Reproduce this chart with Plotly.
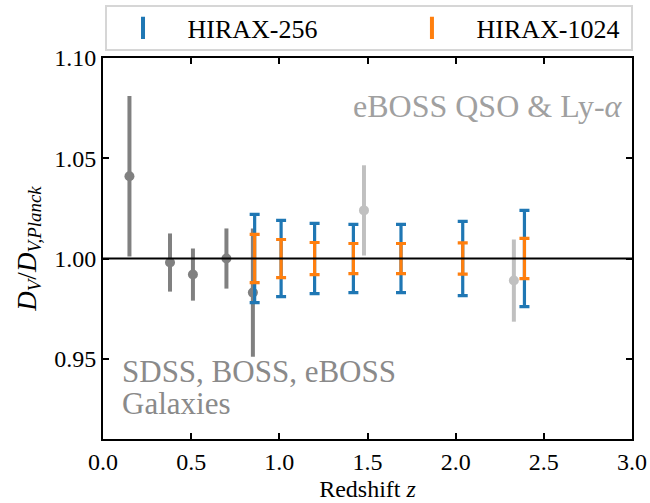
import plotly.graph_objects as go

# Galaxy BAO measurements (SDSS, BOSS, eBOSS)
gal_z = [0.15, 0.38, 0.51, 0.70, 0.85]
gal_y = [1.041, 0.998, 0.992, 1.000, 0.983]
gal_err = [0.040, 0.0145, 0.013, 0.015, 0.032]

# eBOSS QSO & Ly-alpha
qso_z = [1.48, 2.33]
qso_y = [1.024, 0.989]
qso_err = [0.0225, 0.0205]

# HIRAX forecasts
hirax_z = [0.86, 1.01, 1.20, 1.42, 1.69, 2.04, 2.39]
hirax_y = [1.0, 1.0, 1.0, 1.0, 1.0, 1.0, 1.0]
hirax256_err = [0.022, 0.019, 0.0175, 0.017, 0.017, 0.0185, 0.024]
hirax1024_err = [0.012, 0.0095, 0.008, 0.0075, 0.0075, 0.0078, 0.010]

FONT = "Liberation Serif"
BLUE = "#1f77b4"
ORANGE = "#ff7f0e"
DGRAY = "#808080"
LGRAY = "#c0c0c0"

fig = go.Figure()

fig.add_trace(go.Scatter(
    x=gal_z, y=gal_y, mode="markers",
    marker=dict(color=DGRAY, size=10),
    error_y=dict(type="data", array=gal_err, color=DGRAY, thickness=4, width=0),
    showlegend=False, name="SDSS, BOSS, eBOSS Galaxies"))

fig.add_trace(go.Scatter(
    x=qso_z, y=qso_y, mode="markers",
    marker=dict(color=LGRAY, size=10),
    error_y=dict(type="data", array=qso_err, color=LGRAY, thickness=4, width=0),
    showlegend=False, name="eBOSS QSO & Ly-α"))

fig.add_trace(go.Scatter(
    x=hirax_z, y=hirax_y, mode="markers",
    marker=dict(color="rgba(0,0,0,0)", size=1),
    error_y=dict(type="data", array=hirax256_err, color=BLUE, thickness=3.2, width=5),
    showlegend=False, name="HIRAX-256"))

fig.add_trace(go.Scatter(
    x=hirax_z, y=hirax_y, mode="markers",
    marker=dict(color="rgba(0,0,0,0)", size=1),
    error_y=dict(type="data", array=hirax1024_err, color=ORANGE, thickness=3.2, width=5),
    showlegend=False, name="HIRAX-1024"))

# legend entries (one legend each, inside a common frame)
for nm, col, lg in [("HIRAX-256", BLUE, "legend"), ("HIRAX-1024", ORANGE, "legend2")]:
    fig.add_trace(go.Scatter(
        x=[None], y=[None], mode="markers", name="\u00a0" + nm, legend=lg,
        marker=dict(symbol="line-ns", size=25, line=dict(color=col, width=4), color=col)))

fig.add_shape(type="rect", xref="paper", yref="paper", x0=0.0057, x1=1.0, y0=1.021, y1=1.1365,
              line=dict(color="#d6d6d6", width=2), fillcolor="rgba(0,0,0,0)")

fig.add_shape(type="line", xref="paper", x0=0, x1=1, yref="y", y0=1.0, y1=1.0,
              line=dict(color="black", width=2), layer="above")

fig.add_annotation(x=0.987, xref="paper", y=1.0762, yref="y", text="eBOSS QSO &amp; Ly-<i>α</i>",
                   showarrow=False, xanchor="right", yanchor="middle",
                   font=dict(family=FONT, size=32, color="#a0a0a0"))
fig.add_annotation(x=0.032, xref="paper", y=0.9435, yref="y",
                   text="SDSS, BOSS, eBOSS", align="left",
                   showarrow=False, xanchor="left", yanchor="middle",
                   font=dict(family=FONT, size=31, color="#8a8a8a"))
fig.add_annotation(x=0.032, xref="paper", y=0.9278, yref="y",
                   text="Galaxies", align="left",
                   showarrow=False, xanchor="left", yanchor="middle",
                   font=dict(family=FONT, size=31, color="#8a8a8a"))

axis_common = dict(showgrid=False, zeroline=False, showline=True, linecolor="black",
                   linewidth=2, mirror="ticks", ticks="inside", ticklen=6, tickwidth=1.5,
                   tickcolor="black", tickfont=dict(family=FONT, size=24, color="black"))

fig.update_xaxes(range=[0, 3], tickvals=[0, 0.5, 1.0, 1.5, 2.0, 2.5, 3.0],
                 ticktext=["0.0", "0.5", "1.0", "1.5", "2.0", "2.5", "3.0"],
                 title=dict(text="Redshift <i>z</i>", font=dict(family=FONT, size=24, color="black"),
                            standoff=6),
                 **axis_common)
fig.update_yaxes(range=[0.91, 1.10], tickvals=[0.95, 1.0, 1.05, 1.10],
                 ticktext=["0.95", "1.00", "1.05", "1.10"],
                 title=dict(text="<i>D<sub>V</sub></i>/<i>D<sub>V,Planck</sub></i>",
                            font=dict(family=FONT, size=27, color="black"), standoff=10),
                 **axis_common)

leg_common = dict(orientation="h", yanchor="middle", y=1.0787, xanchor="left",
                  borderwidth=0, bgcolor="rgba(0,0,0,0)", itemwidth=66,
                  font=dict(family=FONT, size=26, color="black"))

fig.update_layout(
    width=650, height=503,
    margin=dict(l=103, r=18, t=58, b=64, autoexpand=False),
    plot_bgcolor="white", paper_bgcolor="white",
    legend=dict(x=0.0038, **leg_common),
    legend2=dict(x=0.550, **leg_common),
)

fig.write_html("out.html", config={"displayModeBar": False},
               post_script="document.body.style.margin='0';")
